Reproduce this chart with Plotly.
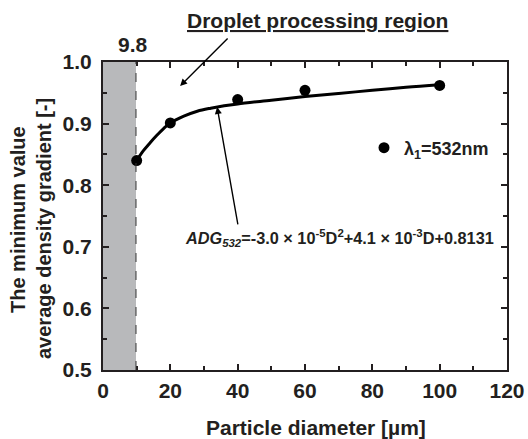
import plotly.graph_objects as go

# measured data points
diam = [10, 20, 40, 60, 100]
adg = [0.840, 0.901, 0.939, 0.954, 0.962]

# fitted curve
curve_x = [10, 12, 14, 16, 18, 20, 24, 28, 32, 36, 40, 50, 60, 70, 80, 90, 100]
curve_y = [0.840, 0.856, 0.869, 0.881, 0.892, 0.901, 0.912, 0.920, 0.925, 0.929, 0.932, 0.938, 0.944, 0.949, 0.954, 0.959, 0.963]

limit_x = 9.8
x_ticks = [0, 20, 40, 60, 80, 100, 120]
y_ticks = [0.5, 0.6, 0.7, 0.8, 0.9, 1.0]

FONT = "Liberation Sans, Arial, sans-serif"
INK = "#231f20"

# plot-area geometry (pixels) used to place free text
L, R, T, B = 103, 21, 62, 69
W, H = 528, 439
PW, PH = W - L - R, H - T - B


def px(xp):
    return (xp - L) / PW


def py(yp):
    return (H - B - yp) / PH


fig = go.Figure()

fig.add_shape(type="rect", x0=0, x1=limit_x, y0=0.5, y1=1.0, xref="x", yref="y",
              fillcolor="#b8b9bb", line=dict(width=0), layer="below")
fig.add_shape(type="line", x0=limit_x, x1=limit_x, y0=0.5, y1=1.0, xref="x", yref="y",
              line=dict(color="#333333", width=1, dash="dash"))

fig.add_trace(go.Scatter(x=curve_x, y=curve_y, mode="lines", line=dict(color="black", width=3, shape="spline"),
                         showlegend=False, hoverinfo="skip"))
fig.add_trace(go.Scatter(x=diam, y=adg, mode="markers", marker=dict(color="black", size=11),
                         name="<b>λ<sub>1</sub>=532nm</b>", showlegend=True))

axis_common = dict(showline=True, linecolor=INK, linewidth=2.2, mirror="allticks",
                   ticks="inside", ticklen=6, tickwidth=1.5, tickcolor=INK,
                   showgrid=False, zeroline=False, automargin=False,
                   tickfont=dict(family=FONT, size=21, color=INK))

fig.update_xaxes(range=[0, 120], tickvals=x_ticks, ticktext=[f"<b>{v}</b>" for v in x_ticks],
                 minor=dict(dtick=10, ticks="inside", ticklen=4, tickcolor=INK, tickwidth=1.5),
                 ticklabelstandoff=1,
                 **axis_common)
fig.update_yaxes(range=[0.5, 1.0], tickvals=y_ticks, ticktext=[f"<b>{v:.1f}</b>" for v in y_ticks],
                 minor=dict(dtick=0.05, ticks="inside", ticklen=4, tickcolor=INK, tickwidth=1.5),
                 ticklabelstandoff=5,
                 **axis_common)


def label(text, xp, yp, size, angle=0, xanchor="center"):
    fig.add_annotation(text=text, x=px(xp), y=py(yp), xref="paper", yref="paper",
                       xanchor=xanchor, yanchor="middle", textangle=angle, showarrow=False,
                       font=dict(family=FONT, size=size, color=INK))


label("<b>The minimum value</b>", 18, 220, 20, angle=-90)
label("<b>average density gradient [-]</b>", 44, 229, 20, angle=-90)
label("<b>Particle diameter [µm]</b>", 316, 427, 21)
label("<b>9.8</b>", 133, 45, 21)
label("<b><u>Droplet processing region</u></b>", 317, 21, 21)
label("<b><i>ADG<sub>532</sub></i>=-3.0 × 10<sup>-5</sup>D<sup>2</sup>+4.1 × 10<sup>-3</sup>D+0.8131</b>",
      183, 238, 16.3, xanchor="left")

fig.add_annotation(text="", x=22.9, y=0.961, xref="x", yref="y", ax=49, ay=-49, axref="pixel", ayref="pixel",
                   showarrow=True, arrowhead=2, arrowsize=1, arrowwidth=1.4, arrowcolor="black")
fig.add_annotation(text="", x=33.9, y=0.927, xref="x", yref="y", ax=21, ay=119,
                   showarrow=True, arrowhead=2, arrowsize=1, arrowwidth=1.4, arrowcolor="black")

fig.update_layout(
    width=W, height=H,
    margin=dict(l=L, r=R, t=T, b=B, autoexpand=False),
    paper_bgcolor="white", plot_bgcolor="white",
    legend=dict(x=px(364), y=py(148), xanchor="left", yanchor="middle", bgcolor="rgba(0,0,0,0)",
                font=dict(family=FONT, size=18, color=INK), itemwidth=30),
    font=dict(family=FONT, color=INK),
)

fig.write_html("out.html")
